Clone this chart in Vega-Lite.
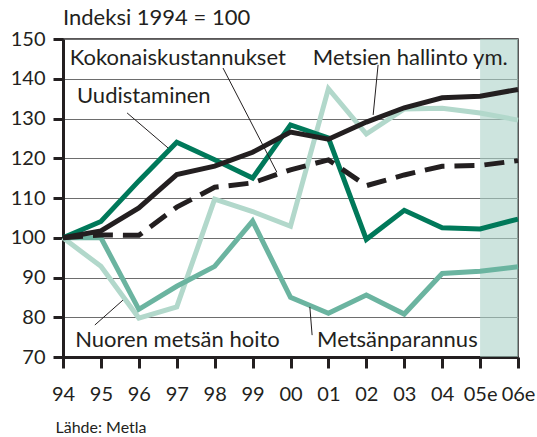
{
  "$schema": "https://vega.github.io/schema/vega-lite/v6.json",
  "width": 455,
  "height": 318,
  "autosize": {"type": "none"},
  "padding": {"left": 63, "top": 39, "right": 19, "bottom": 80},
  "background": "white",
  "config": {
    "view": {"stroke": "#231f20", "strokeWidth": 1.5},
    "font": "Lato",
    "axisX": {
      "title": "Lähde: Metla",
      "values": [1994, 1995, 1996, 1997, 1998, 1999, 2000, 2001, 2002, 2003, 2004, 2005, 2006],
      "labelExpr": "datum.value == 2005 ? '05e' : datum.value == 2006 ? '06e' : slice(toString(datum.value), 2)",
      "grid": false,
      "domainWidth": 3,
      "domainColor": "#231f20",
      "tickColor": "#231f20",
      "tickWidth": 3,
      "tickSize": 11,
      "labelFontSize": 20,
      "labelColor": "#231f20",
      "labelPadding": 16,
      "labelFlush": false,
      "labelOverlap": false,
      "labelBound": false,
      "titleX": -8,
      "titleY": 75,
      "titleAlign": "left",
      "titleAnchor": "start",
      "titleBaseline": "alphabetic",
      "titleFontSize": 16,
      "titleFontWeight": "normal",
      "titleColor": "#231f20"
    },
    "axisY": {
      "title": null,
      "values": [70, 80, 90, 100, 110, 120, 130, 140, 150],
      "grid": true,
      "gridColor": "#6d6d6d",
      "gridWidth": 1,
      "domainWidth": 3,
      "domainColor": "#231f20",
      "tickColor": "#231f20",
      "tickWidth": 3,
      "tickSize": 10,
      "labelFontSize": 20,
      "labelColor": "#231f20",
      "labelPadding": 8
    }
  },
  "title": {
    "text": "Indeksi 1994 = 100",
    "anchor": "start",
    "frame": "group",
    "fontSize": 22,
    "fontWeight": "normal",
    "color": "#231f20",
    "baseline": "bottom",
    "offset": 8,
    "dy": 31
  },
  "datasets": {
    "series": [
      {"series": "Nuoren metsän hoito", "year": 1994, "value": 100},
      {"series": "Nuoren metsän hoito", "year": 1995, "value": 92.8},
      {"series": "Nuoren metsän hoito", "year": 1996, "value": 79.8},
      {"series": "Nuoren metsän hoito", "year": 1997, "value": 82.6},
      {"series": "Nuoren metsän hoito", "year": 1998, "value": 109.7},
      {"series": "Nuoren metsän hoito", "year": 1999, "value": 106.6},
      {"series": "Nuoren metsän hoito", "year": 2000, "value": 102.9},
      {"series": "Nuoren metsän hoito", "year": 2001, "value": 137.5},
      {"series": "Nuoren metsän hoito", "year": 2002, "value": 126.1},
      {"series": "Nuoren metsän hoito", "year": 2003, "value": 132.4},
      {"series": "Nuoren metsän hoito", "year": 2004, "value": 132.6},
      {"series": "Nuoren metsän hoito", "year": 2005, "value": 131.4},
      {"series": "Nuoren metsän hoito", "year": 2006, "value": 129.6},
      {"series": "Metsänparannus", "year": 1994, "value": 100},
      {"series": "Metsänparannus", "year": 1995, "value": 100},
      {"series": "Metsänparannus", "year": 1996, "value": 82},
      {"series": "Metsänparannus", "year": 1997, "value": 87.8},
      {"series": "Metsänparannus", "year": 1998, "value": 92.8},
      {"series": "Metsänparannus", "year": 1999, "value": 104.2},
      {"series": "Metsänparannus", "year": 2000, "value": 85},
      {"series": "Metsänparannus", "year": 2001, "value": 81},
      {"series": "Metsänparannus", "year": 2002, "value": 85.6},
      {"series": "Metsänparannus", "year": 2003, "value": 80.8},
      {"series": "Metsänparannus", "year": 2004, "value": 91},
      {"series": "Metsänparannus", "year": 2005, "value": 91.6},
      {"series": "Metsänparannus", "year": 2006, "value": 92.7},
      {"series": "Uudistaminen", "year": 1994, "value": 100},
      {"series": "Uudistaminen", "year": 1995, "value": 104.1},
      {"series": "Uudistaminen", "year": 1996, "value": 114.3},
      {"series": "Uudistaminen", "year": 1997, "value": 124},
      {"series": "Uudistaminen", "year": 1998, "value": 119.6},
      {"series": "Uudistaminen", "year": 1999, "value": 115},
      {"series": "Uudistaminen", "year": 2000, "value": 128.4},
      {"series": "Uudistaminen", "year": 2001, "value": 125.1},
      {"series": "Uudistaminen", "year": 2002, "value": 99.6},
      {"series": "Uudistaminen", "year": 2003, "value": 106.9},
      {"series": "Uudistaminen", "year": 2004, "value": 102.5},
      {"series": "Uudistaminen", "year": 2005, "value": 102.2},
      {"series": "Uudistaminen", "year": 2006, "value": 104.7},
      {"series": "Kokonaiskustannukset", "year": 1994, "value": 100},
      {"series": "Kokonaiskustannukset", "year": 1995, "value": 100.7},
      {"series": "Kokonaiskustannukset", "year": 1996, "value": 100.6},
      {"series": "Kokonaiskustannukset", "year": 1997, "value": 107.7},
      {"series": "Kokonaiskustannukset", "year": 1998, "value": 112.7},
      {"series": "Kokonaiskustannukset", "year": 1999, "value": 113.8},
      {"series": "Kokonaiskustannukset", "year": 2000, "value": 117.1},
      {"series": "Kokonaiskustannukset", "year": 2001, "value": 119.6},
      {"series": "Kokonaiskustannukset", "year": 2002, "value": 113.1},
      {"series": "Kokonaiskustannukset", "year": 2003, "value": 115.8},
      {"series": "Kokonaiskustannukset", "year": 2004, "value": 118},
      {"series": "Kokonaiskustannukset", "year": 2005, "value": 118.2},
      {"series": "Kokonaiskustannukset", "year": 2006, "value": 119.4},
      {"series": "Metsien hallinto ym.", "year": 1994, "value": 100},
      {"series": "Metsien hallinto ym.", "year": 1995, "value": 101.7},
      {"series": "Metsien hallinto ym.", "year": 1996, "value": 107.5},
      {"series": "Metsien hallinto ym.", "year": 1997, "value": 115.9},
      {"series": "Metsien hallinto ym.", "year": 1998, "value": 118},
      {"series": "Metsien hallinto ym.", "year": 1999, "value": 121.5},
      {"series": "Metsien hallinto ym.", "year": 2000, "value": 126.6},
      {"series": "Metsien hallinto ym.", "year": 2001, "value": 124.8},
      {"series": "Metsien hallinto ym.", "year": 2002, "value": 129.1},
      {"series": "Metsien hallinto ym.", "year": 2003, "value": 132.7},
      {"series": "Metsien hallinto ym.", "year": 2004, "value": 135.2},
      {"series": "Metsien hallinto ym.", "year": 2005, "value": 135.6},
      {"series": "Metsien hallinto ym.", "year": 2006, "value": 137.3}
    ],
    "band": [{"start": 2005, "end": 2006}],
    "labels": [
      {"label": "Kokonaiskustannukset", "year": 1994.18, "value": 143.5},
      {"label": "Metsien hallinto ym.", "year": 2000.59, "value": 143.5},
      {"label": "Uudistaminen", "year": 1994.37, "value": 133.9},
      {"label": "Nuoren metsän hoito", "year": 1994.32, "value": 72.5},
      {"label": "Metsänparannus", "year": 2000.7, "value": 72.5}
    ],
    "leaders": [
      {"label": "Kokonaiskustannukset", "year": 1998.22, "value": 142.7, "year2": 1999.64, "value2": 116.5},
      {"label": "Metsien hallinto ym.", "year": 2002.31, "value": 143.5, "year2": 2002.18, "value2": 130.9},
      {"label": "Uudistaminen", "year": 1995.69, "value": 131.4, "year2": 1996.77, "value2": 122.6},
      {"label": "Nuoren metsän hoito", "year": 1994.84, "value": 78.05, "year2": 1995.58, "value2": 84.3},
      {"label": "Metsänparannus", "year": 2000.51, "value": 82.6, "year2": 2000.57, "value2": 75.5}
    ]
  },
  "layer": [
    {
      "data": {"name": "band"},
      "mark": {"type": "rect", "color": "#acd2c8", "opacity": 0.6},
      "encoding": {
        "x": {"field": "start", "type": "quantitative", "scale": {"domain": [1994, 2006], "nice": false, "zero": false}, "title": "Lähde: Metla"},
        "x2": {"field": "end"}
      }
    },
    {
      "data": {"name": "series"},
      "transform": [{"filter": "datum.series == 'Nuoren metsän hoito'"}],
      "mark": {"type": "line", "color": "#b2d8cb", "strokeWidth": 5, "strokeJoin": "miter"},
      "encoding": {
        "x": {"field": "year", "type": "quantitative", "scale": {"domain": [1994, 2006], "nice": false, "zero": false}, "title": "Lähde: Metla"},
        "y": {"field": "value", "type": "quantitative", "scale": {"domain": [70, 150], "nice": false, "zero": false}, "title": null}
      }
    },
    {
      "data": {"name": "series"},
      "transform": [{"filter": "datum.series == 'Metsänparannus'"}],
      "mark": {"type": "line", "color": "#6bb4a0", "strokeWidth": 5, "strokeJoin": "miter"},
      "encoding": {
        "x": {"field": "year", "type": "quantitative", "title": "Lähde: Metla"},
        "y": {"field": "value", "type": "quantitative", "title": null}
      }
    },
    {
      "data": {"name": "series"},
      "transform": [{"filter": "datum.series == 'Uudistaminen'"}],
      "mark": {"type": "line", "color": "#00795a", "strokeWidth": 5, "strokeJoin": "miter"},
      "encoding": {
        "x": {"field": "year", "type": "quantitative", "title": "Lähde: Metla"},
        "y": {"field": "value", "type": "quantitative", "title": null}
      }
    },
    {
      "data": {"name": "series"},
      "transform": [{"filter": "datum.series == 'Kokonaiskustannukset'"}],
      "mark": {"type": "line", "color": "#231f20", "strokeWidth": 5, "strokeDash": [20, 10]},
      "encoding": {
        "x": {"field": "year", "type": "quantitative", "title": "Lähde: Metla"},
        "y": {"field": "value", "type": "quantitative", "title": null}
      }
    },
    {
      "data": {"name": "series"},
      "transform": [{"filter": "datum.series == 'Metsien hallinto ym.'"}],
      "mark": {"type": "line", "color": "#231f20", "strokeWidth": 5, "strokeJoin": "miter"},
      "encoding": {
        "x": {"field": "year", "type": "quantitative", "title": "Lähde: Metla"},
        "y": {"field": "value", "type": "quantitative", "title": null}
      }
    },
    {
      "data": {"name": "leaders"},
      "mark": {"type": "rule", "color": "#231f20", "strokeWidth": 1},
      "encoding": {
        "x": {"field": "year", "type": "quantitative", "title": "Lähde: Metla"},
        "y": {"field": "value", "type": "quantitative", "title": null},
        "x2": {"field": "year2"},
        "y2": {"field": "value2"}
      }
    },
    {
      "data": {"name": "labels"},
      "mark": {"type": "text", "align": "left", "baseline": "alphabetic", "fontSize": 22, "color": "#231f20"},
      "encoding": {
        "x": {"field": "year", "type": "quantitative", "title": "Lähde: Metla"},
        "y": {"field": "value", "type": "quantitative", "title": null},
        "text": {"field": "label"}
      }
    },
    {
      "mark": {"type": "rule", "color": "#231f20", "strokeWidth": 4},
      "encoding": {
        "x": {"datum": 2006, "type": "quantitative", "title": "Lähde: Metla"}
      }
    }
  ]
}
